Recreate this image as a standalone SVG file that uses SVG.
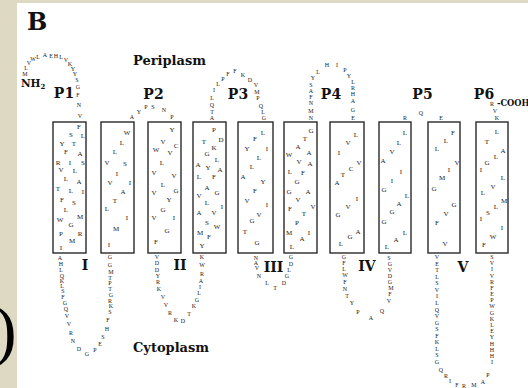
<svg xmlns="http://www.w3.org/2000/svg" width="528" height="388" viewBox="0 0 528 388">
<style>
.bx{fill:none;stroke:#2a2a2a;stroke-width:1.4}
.aa{font-family:"Liberation Serif",serif;font-size:7px;fill:#222;text-anchor:middle;dominant-baseline:central}
.lp{font-family:"Liberation Serif",serif;font-size:6px;fill:#222;text-anchor:middle;dominant-baseline:central}
.lb{font-family:"DejaVu Serif",serif;font-weight:bold;fill:#111}
.lbm{font-family:"DejaVu Serif",serif;font-weight:bold;fill:#111;text-anchor:middle;font-size:14px}
</style>
<rect x="0" y="0" width="528" height="388" fill="#ddd9c3"/>
<rect x="17" y="3" width="511" height="385" fill="#ffffff"/>
<text x="-6" y="353" font-family="Liberation Serif,serif" font-size="68" fill="#000">)</text>

<text class="lb" x="27" y="30" font-size="24">B</text>
<text class="lb" x="133" y="65" font-size="13">Periplasm</text>
<text class="lb" x="133" y="352" font-size="13">Cytoplasm</text>
<text class="lb" x="21" y="87" font-size="10.5">NH<tspan font-size="7" dy="2">2</tspan></text>
<text class="lb" x="497" y="106" font-size="8.3">-COOH</text>

<g id="periplasmic-labels">
<text class="lbm" x="64" y="98">P1</text>
<text class="lbm" x="153.5" y="99">P2</text>
<text class="lbm" x="238" y="99">P3</text>
<text class="lbm" x="331" y="99">P4</text>
<text class="lbm" x="422.5" y="99">P5</text>
<text class="lbm" x="484" y="99">P6</text>
</g>
<g id="cytoplasmic-labels">
<text class="lbm" x="85" y="270">I</text>
<text class="lbm" x="180" y="270">II</text>
<text class="lbm" x="273.5" y="272">III</text>
<text class="lbm" x="367" y="271">IV</text>
<text class="lbm" x="463" y="272">V</text>
</g>

<g id="tm1"><rect class="bx" x="53" y="122" width="33" height="131"/>
<text class="aa" x="79 71 83 62 74 66 80 58 70 83 61 75 66 79 58 71 83 62 74 66 80 60 71 61 80 72 61" y="127 135 136 144 144 152 154 163 163 163 170 171 179 182 189 191 192 200 203 210 217 220 225 234 234 241 248">FSLYTFARISVLLATLIFSLMWGPRMI</text></g>
<g id="tm2"><rect class="bx" x="101" y="122" width="33" height="131"/>
<text class="aa" x="127 122 115 107 125 117 110 130 123 115 107 127 116 109" y="133 143 152 163 164 174 183 183 192 201 209 218 229 245">WLLVSIVIATLIMI</text></g>
<g id="tm3"><rect class="bx" x="148" y="122" width="33" height="131"/>
<text class="aa" x="172 163 176 156 170 162 154 174 163 176 154 169 163 154 174 167 156" y="130 142 146 150 153 163 173 176 185 191 193 200 210 218 218 231 242">YVCWVLVVLGVYGVIGF</text></g>
<g id="tm4"><rect class="bx" x="193" y="122" width="33" height="131"/>
<text class="aa" x="214 221 204 214 207 217 198 208 220 199 214 207 217 199 207 222 214 199 207 217 200 209 202" y="130 140 142 148 154 160 165 168 170 177 177 188 193 196 203 207 213 213 223 227 233 237 246">PDTKGLAYALFAGVLIVASWMFY</text></g>
<g id="tm5"><rect class="bx" x="238" y="122" width="35" height="131"/>
<text class="aa" x="263 255 247 267 259 252 243 263 255 247 267 259 252 245 257" y="133 139 149 149 158 167 177 182 191 201 205 215 221 232 243">LFYILLAYFVIVGTG</text></g>
<g id="tm6"><rect class="bx" x="284" y="122" width="33" height="131"/>
<text class="aa" x="311 305 298 309 289 299 310 290 303 297 289 308 298 313 290 304 297 289 309 302 292" y="131 139 147 153 155 162 164 172 173 182 192 192 200 207 209 214 223 233 233 239 247">GTAAWVALFGGAVVFTPMIAL</text></g>
<g id="tm7"><rect class="bx" x="330" y="122" width="34" height="131"/>
<text class="aa" x="356 348 339 359 351 343 337 357 348 338 358 350 341" y="135 143 153 163 169 175 183 199 207 215 232 237 244">LVIVCTAIVGAGL</text></g>
<g id="tm8"><rect class="bx" x="379" y="122" width="32" height="131"/>
<text class="aa" x="405 399 392 383 401 392 384 407 399 392 384 405 396 387" y="133 143 152 161 172 181 190 196 204 212 222 233 240 247">LLVAIIGLAGGLAL</text></g>
<g id="tm9"><rect class="bx" x="428" y="122" width="32" height="131"/>
<text class="aa" x="453 446 437 457 449 442 434 454 446 437 445" y="133 141 149 163 170 178 189 205 214 223 244">FLLVIMGGVFV</text></g>
<g id="tm10"><rect class="bx" x="476" y="122" width="32" height="131"/>
<text class="aa" x="497 487 503 496 487 481 503 493 483 504 496 488 481 502 493 484" y="132 142 151 157 163 170 178 187 193 201 207 213 219 228 237 245">LTALGILVLMLSIIWF</text></g>

<g id="connectors">
<g id="loop-n">
<text class="lp" x="25 26 29 33 38 45 51 56 61 66" y="74 68 63 59 57 55 56 56 57 60">MLVWLAEHLV</text>
<text class="lp" x="70 73 75" y="64 69 74">KYY</text>
<text class="lp" x="77 78 78 79 80" y="80 87 95 105 116">SGFNV</text>
</g>
<g id="loop-1">
<text class="lp" x="60 61 61 62 62 62 63 63 65 66 67 69 71 73" y="258 264 270 276 281 286 291 297 303 309 316 324 333 341">AHLQKLSFGQVVRN</text>
<text class="lp" x="79 87 95" y="349 354 350">DGP</text>
<text class="lp" x="100 103 107 108 110 111 110 111 110 110 110 111 110 110" y="344 337 329 320 312 306 301 295 289 283 278 272 265 257">ESHFSKRGTPTMGG</text>
</g>
<text class="lp" x="132 139 146 153 164 172" y="117 112 107 107 110 117">AYPSNP</text>
<g id="loop-2">
<text class="lp" x="157 157 157 158 158 159 163 166" y="257 263 270 276 282 289 297 305">VDDYRKVV</text>
<text class="lp" x="170 176 183 189 194" y="313 320 321 314 306">RKDTK</text>
<text class="lp" x="197 199 200 201 202 202 202" y="300 293 287 281 274 265 257">GLIARWK</text>
</g>
<g id="loop-p3">
<text class="lp" x="212 212 212 212 214 218" y="118 112 105 98 90 84">ATQLIL</text>
<text class="lp" x="223 228 235 243 250" y="79 74 71 75 80">PFFKD</text>
<text class="lp" x="256 257 258 261 263 264" y="85 92 98 106 112 118">VMPQLG</text>
</g>
<g id="loop-3">
<text class="lp" x="256 256 257 259" y="258 263 268 276">NAVN</text>
<text class="lp" x="267 275 284" y="283 288 283">LTD</text>
<text class="lp" x="287 289 291 291" y="276 270 264 257">GLDG</text>
</g>
<g id="loop-p4">
<text class="lp" x="311 311 311 311 311 311 313" y="118 111 103 97 91 85 78">NMNFASY</text>
<text class="lp" x="318 327 337 345" y="72 65 65 70">LHIP</text>
<text class="lp" x="349 353 353 353 353 353 353" y="76 82 88 94 101 110 118">YLRHAGE</text>
</g>
<g id="loop-4">
<text class="lp" x="344 344 344 345 345 345 347" y="257 263 269 275 282 289 296">GFLWFNT</text>
<text class="lp" x="352 358 371 382 389" y="303 312 318 311 301">YPAQV</text>
<text class="lp" x="390 391 390 390 390 390 389" y="294 288 282 276 270 264 258">FMGDVGS</text>
</g>
<text class="lp" x="405 421 441" y="118 113 118">RQE</text>
<g id="loop-5">
<text class="lp" x="437 437 437 437 437 437 437 437 437 437 437 437 437 437 437 437 437" y="257 264 270 277 283 290 296 303 310 316 323 329 336 342 349 355 362">VETLSVILQVGSFKLSG</text>
<text class="lp" x="441 446 450 457 464 474 483 488" y="370 376 381 385 386 385 382 375">QRIFRMAP</text>
<text class="lp" x="492 492 492 492 492 492 492 492 492 492 492 492 492 492 492 492 492 492" y="362 356 350 344 337 331 325 319 313 306 300 294 288 282 276 269 263 257">IHHHYELKGWPEFRVIVS</text>
</g>
<text class="lp" x="497 495 492" y="118 111 104">KVR</text>
</g>
</svg>
